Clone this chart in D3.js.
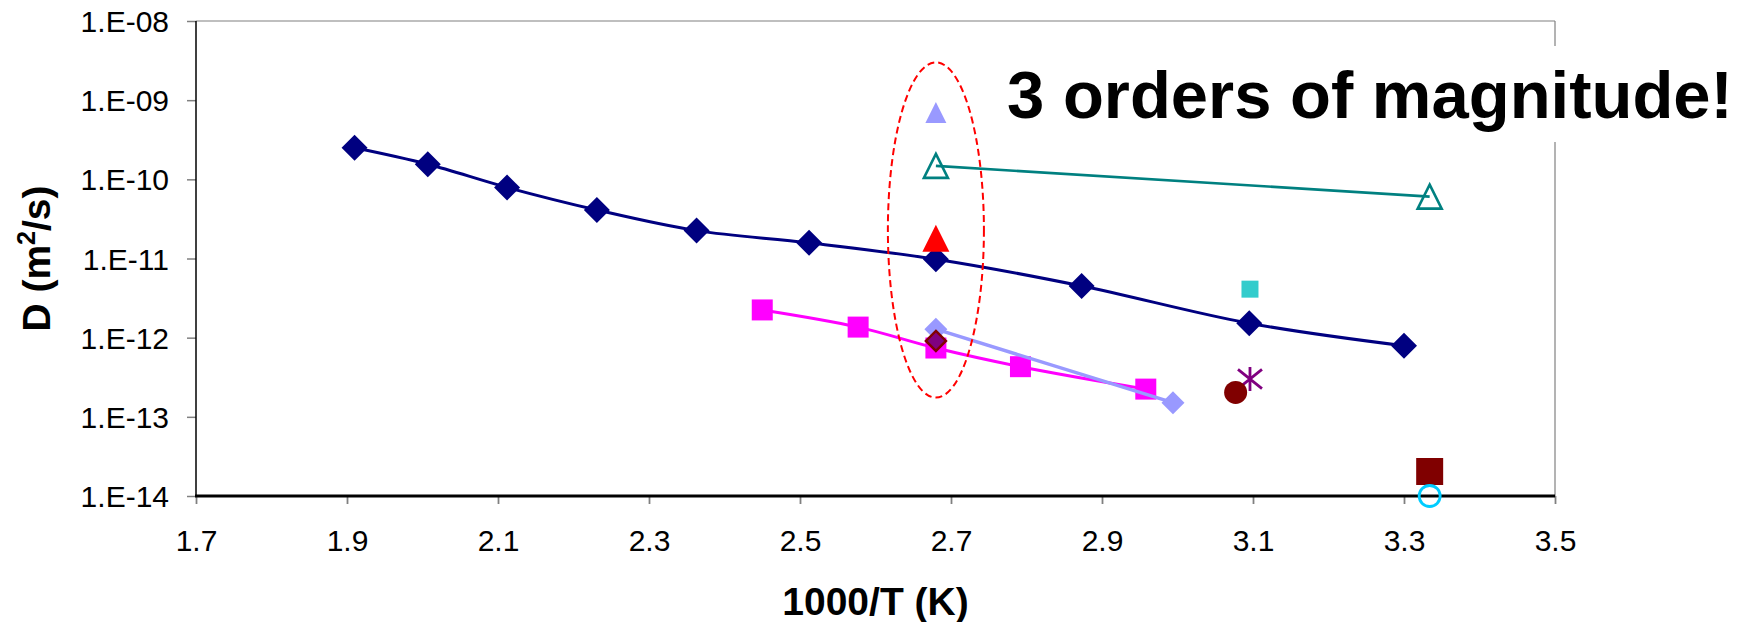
<!DOCTYPE html>
<html lang="en">
<head>
<meta charset="UTF-8">
<title>D vs 1000/T</title>
<script src="https://d3js.org/d3.v7.min.js"></script>
<style>
  body { margin: 0; background: #fff; }
  text { font-family: "Liberation Sans", Arial, sans-serif; }
</style>
</head>
<body>
<svg id="chart" width="1753" height="622"></svg>
<script>
// series: 1000/T (K) and D (m2/s)
const navyX = [1.910, 2.007, 2.112, 2.231, 2.363, 2.512, 2.680, 2.873, 3.095, 3.300];
const navyD = [2.5e-10, 1.55e-10, 7.9e-11, 4.1e-11, 2.25e-11, 1.58e-11, 9.8e-12, 4.5e-12, 1.52e-12, 7.9e-13];

const pinkX = [2.450, 2.577, 2.680, 2.792, 2.958];
const pinkD = [2.24e-12, 1.36e-12, 7.4e-13, 4.3e-13, 2.24e-13];

const lilacX = [2.680, 2.994];
const lilacD = [1.28e-12, 1.51e-13];

const tealX = [2.680, 3.334];
const tealD = [1.48e-10, 6.05e-11];

// single points
const singles = [
  { x: 2.680, d: 7.0e-10,  shape: "triangle", size: 21, fill: "#9999FF" },
  { x: 2.680, d: 1.8e-11,  shape: "triangle", size: 27, fill: "#FF0000" },
  { x: 2.680, d: 9.1e-13,  shape: "diamond",  size: 20, fill: "#800080", stroke: "#800000", sw: 2.5 },
  { x: 3.096, d: 4.1e-12,  shape: "square",   size: 17, fill: "#33CCCC" },
  { x: 3.096, d: 3.0e-13,  shape: "star",     size: 24, stroke: "#800080", sw: 2.8 },
  { x: 3.077, d: 2.03e-13, shape: "circle",   size: 23, fill: "#800000" },
  { x: 3.334, d: 2.04e-14, shape: "square",   size: 27, fill: "#800000" },
  { x: 3.334, d: 1.0e-14,  shape: "circle",   size: 21, stroke: "#00CCFF", sw: 2.8 }
];

const xTicks = [1.7, 1.9, 2.1, 2.3, 2.5, 2.7, 2.9, 3.1, 3.3, 3.5];
const yTicks = [1e-14, 1e-13, 1e-12, 1e-11, 1e-10, 1e-9, 1e-8];

// red dashed ellipse around the 2.68 column, in data units
const ringX = 2.680, ringTop = 3.0e-9, ringBottom = 1.75e-13, ringHalfW = 0.0636;

const L = 196, R = 1555, T = 21, B = 496;
const svg = d3.select("#chart");
const x = d3.scaleLinear().domain([1.7, 3.5]).range([L, R]);
const y = d3.scaleLog().domain([1e-14, 1e-8]).range([B, T]);

function markerPath(shape, s) {
  const h = s / 2;
  if (shape === "diamond") return `M0,${-h}L${h},0L0,${h}L${-h},0Z`;
  if (shape === "square") return `M${-h},${-h}H${h}V${h}H${-h}Z`;
  if (shape === "triangle") return `M0,${-h}L${h},${h}L${-h},${h}Z`;
  if (shape === "circle") return `M${h},0A${h},${h} 0 1,1 ${-h},0A${h},${h} 0 1,1 ${h},0Z`;
  if (shape === "star") return `M0,${-h}V${h}M${-h},${-h * 0.8}L${h},${h * 0.8}M${h},${-h * 0.8}L${-h},${h * 0.8}`;
  return "";
}

// plot frame
svg.append("line").attr("x1", L).attr("x2", R).attr("y1", T).attr("y2", T)
  .attr("stroke", "#808080").attr("stroke-width", 1.2);
svg.append("line").attr("x1", R).attr("x2", R).attr("y1", T).attr("y2", B)
  .attr("stroke", "#808080").attr("stroke-width", 1.2);

// axes
const yAxis = svg.append("g").attr("transform", `translate(${L},0)`)
  .call(d3.axisLeft(y).tickValues(yTicks).tickSize(9).tickSizeOuter(0)
    .tickFormat(d => "1.E-" + String(-Math.round(Math.log10(d))).padStart(2, "0")));
yAxis.select(".domain").remove();
yAxis.selectAll(".tick line").attr("stroke", "#808080").attr("stroke-width", 1.5);
yAxis.selectAll(".tick text").attr("x", -27).attr("dy", "0.35em")
  .style("font-size", "30px").attr("fill", "#000");

const xAxis = svg.append("g").attr("transform", `translate(0,${B})`)
  .call(d3.axisBottom(x).tickValues(xTicks).tickSize(8).tickSizeOuter(0).tickFormat(d3.format(".1f")));
xAxis.select(".domain").remove();
xAxis.selectAll(".tick line").attr("stroke", "#808080").attr("stroke-width", 1.8);
xAxis.selectAll(".tick text").attr("y", 55).attr("dy", null)
  .style("font-size", "30px").attr("fill", "#000");

svg.append("line").attr("x1", L).attr("x2", L).attr("y1", T).attr("y2", B)
  .attr("stroke", "#000").attr("stroke-width", 1.5);
svg.append("line").attr("x1", L - 1).attr("x2", R).attr("y1", B).attr("y2", B)
  .attr("stroke", "#000").attr("stroke-width", 2.8);

// axis titles
svg.append("text").attr("x", (L + R) / 2).attr("y", 615).attr("text-anchor", "middle")
  .style("font-size", "39px").style("font-weight", "bold").text("1000/T (K)");

const yt = svg.append("text").attr("transform", `translate(50,${(T + B) / 2}) rotate(-90)`)
  .attr("text-anchor", "middle").style("font-size", "39px").style("font-weight", "bold");
yt.append("tspan").text("D (m");
yt.append("tspan").attr("dy", -15).style("font-size", "25px").text("2");
yt.append("tspan").attr("dy", 15).text("/s)");

// series
const line = d3.line().x(d => x(d[0])).y(d => y(d[1]));
const smooth = d3.line().x(d => x(d[0])).y(d => y(d[1])).curve(d3.curveCatmullRom.alpha(0.5));

function series(xs, ds, color, width, curve, shape, size, filled) {
  const pts = d3.zip(xs, ds);
  svg.append("path").datum(pts).attr("d", curve)
    .attr("fill", "none").attr("stroke", color).attr("stroke-width", width);
  svg.append("g").selectAll("path").data(pts).join("path")
    .attr("transform", d => `translate(${x(d[0])},${y(d[1])})`)
    .attr("d", markerPath(shape, size))
    .attr("fill", filled ? color : "none")
    .attr("stroke", filled ? "none" : color)
    .attr("stroke-width", filled ? 0 : 2.6);
}

series(navyX, navyD, "#000080", 3, smooth, "diamond", 26, true);
series(pinkX, pinkD, "#FF00FF", 3, smooth, "square", 21, true);
series(lilacX, lilacD, "#9999FF", 3.5, line, "diamond", 23, true);
series(tealX, tealD, "#008080", 2.6, line, "triangle", 24, false);

svg.append("g").selectAll("path").data(singles).join("path")
  .attr("transform", d => `translate(${x(d.x)},${y(d.d)})`)
  .attr("d", d => markerPath(d.shape, d.size))
  .attr("fill", d => d.fill || "none")
  .attr("stroke", d => d.stroke || "none")
  .attr("stroke-width", d => d.sw || 0);

// annotation
const cyR = (y(ringTop) + y(ringBottom)) / 2;
svg.append("ellipse")
  .attr("cx", x(ringX)).attr("cy", cyR)
  .attr("rx", x(ringX + ringHalfW) - x(ringX))
  .attr("ry", (y(ringBottom) - y(ringTop)) / 2)
  .attr("fill", "none").attr("stroke", "#FF0000").attr("stroke-width", 2)
  .attr("stroke-dasharray", "7,4");

svg.append("rect").attr("x", 996).attr("y", 46).attr("width", 752).attr("height", 96).attr("fill", "#fff");
svg.append("text").attr("x", 1007).attr("y", 118)
  .style("font-size", "67px").style("font-weight", "bold").text("3 orders of magnitude!");
</script>
</body>
</html>
